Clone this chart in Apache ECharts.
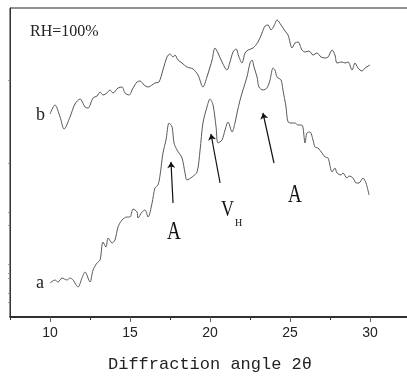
<!DOCTYPE html>
<html>
<head>
<meta charset="utf-8">
<script src="https://cdn.jsdelivr.net/npm/echarts@6/dist/echarts.min.js"></script>
<style>
html,body{margin:0;padding:0;background:#fff;}
#chart{width:407px;height:377px;}
</style>
</head>
<body>
<div id="chart"></div>
<script>
// Curve b (RH=100%) : 2θ values and intensity (arbitrary units)
const xB = [10,10.31,10.63,10.88,11.25,11.56,11.88,12.19,12.38,12.69,12.94,13.13,13.31,13.56,13.75,13.94,14.25,14.5,14.69,14.94,15.19,15.44,15.63,15.88,16.13,16.56,16.81,17.06,17.31,17.5,17.69,17.81,18,18.25,18.56,18.94,19.25,19.56,19.81,20,20.13,20.31,20.5,20.75,21.06,21.25,21.44,21.63,21.81,22,22.19,22.38,22.69,23,23.25,23.44,23.63,23.81,24,24.19,24.44,24.69,24.88,25.13,25.31,25.5,25.75,25.94,26.19,26.44,26.69,26.94,27.19,27.38,27.63,27.81,27.94,28.25,28.44,28.63,28.88,29.06,29.25,29.5,29.69,30];
const yB = [203,212,200,188,200,213,218,210,209,219,221,225,222,224,227,224,229,230,224,222,229,235,236,232,230,234,235,247,260,263,260,262,257,254,250,248,242,230,240,250,257,269,264,255,247,255,265,268,260,254,264,267,269,275,284,291,292,287,291,297,292,286,282,269,274,275,267,265,266,262,264,260,259,260,267,262,254,255,254,255,247,254,249,246,249,252];
// Curve a
const xA = [10,10.31,10.5,10.75,11.06,11.25,11.44,11.75,12,12.19,12.5,12.69,12.94,13.13,13.31,13.5,13.63,13.88,14.06,14.25,14.5,14.81,15,15.19,15.44,15.5,15.75,15.94,16.13,16.38,16.56,16.75,16.88,17.06,17.25,17.44,17.63,17.75,17.94,18.25,18.44,18.56,18.88,19.19,19.38,19.56,19.81,20,20.19,20.38,20.5,20.75,20.94,21.13,21.38,21.56,21.69,21.88,22.06,22.31,22.5,22.63,22.75,22.94,23.06,23.31,23.56,23.75,23.94,24.06,24.19,24.44,24.56,24.75,24.88,25.13,25.31,25.5,25.75,25.94,26.06,26.25,26.44,26.56,26.75,27,27.19,27.38,27.63,27.81,27.94,28.19,28.31,28.56,28.69,28.94,29.13,29.31,29.56,29.75,29.94];
const yA = [34,37,35,39,37,39,37,30,39,45,35,47,54,57,75,70,79,74,77,90,97,100,100,108,105,99,105,107,100,114,129,132,142,164,177,194,190,174,167,159,144,137,140,145,167,194,210,218,212,190,174,177,187,195,185,194,204,217,227,240,254,257,250,240,230,227,229,237,249,247,240,237,227,210,195,194,194,192,192,174,184,185,177,170,169,164,160,159,145,149,144,142,144,139,141,139,134,134,139,134,122];
// Annotation arrows [x0,y0,x1,y1] (tail -> head) in data units
const arrows = [
  [17.69,114,17.56,155],
  [20.63,134,20.06,183],
  [24.0,154,23.31,204]
];
const xTickLabels = [10,15,20,25,30];
const yTickMarks = [237,154,105,92,53,44,39,24,15];

const zip = (xs, ys) => xs.map((x, i) => [x, ys[i]]);

const chart = echarts.init(document.getElementById('chart'), null, {renderer: 'canvas'});
const option = {
  animation: false,
  backgroundColor: '#fff',
  grid: [
    {left: 10, right: -3, top: 8, bottom: 60, show: true, borderColor: '#222', borderWidth: 1, backgroundColor: 'transparent', outerBoundsMode: 'none', containLabel: false},
    {left: 50, right: 37, top: 8, bottom: 60, show: false, outerBoundsMode: 'none', containLabel: false}
  ],
  xAxis: [
    {
      type: 'value', gridIndex: 0, min: 7.5, max: 32.5, interval: 2.5,
      axisLine: {show: true, lineStyle: {color: '#111', width: 1.5}},
      axisTick: {show: true, inside: false, length: 3, lineStyle: {color: '#333', width: 1}},
      axisLabel: {show: false},
      splitLine: {show: false},
      name: 'Diffraction angle 2\u03b8', nameLocation: 'middle', nameGap: 39,
      nameTextStyle: {fontFamily: 'Liberation Mono', fontSize: 17, color: '#222'}
    },
    {
      type: 'value', gridIndex: 1, min: 10, max: 30, interval: 5,
      axisLine: {show: false},
      axisTick: {show: true, inside: false, length: 5, lineStyle: {color: '#666', width: 1}},
      axisLabel: {show: true, margin: 9, fontFamily: 'Liberation Sans', fontSize: 14, color: '#222',
        formatter: v => xTickLabels.indexOf(v) >= 0 ? String(v) : ''},
      splitLine: {show: false}
    }
  ],
  yAxis: [
    {
      type: 'value', gridIndex: 0, min: 0, max: 309,
      axisLine: {show: true, lineStyle: {color: '#333', width: 1}},
      axisTick: {show: true, inside: false, length: 2, customValues: yTickMarks, lineStyle: {color: '#999'}},
      axisLabel: {show: false},
      splitLine: {show: false}
    },
    {
      type: 'value', gridIndex: 1, min: 0, max: 309, show: false
    }
  ],
  series: [
    {
      name: 'b', type: 'line', xAxisIndex: 0, yAxisIndex: 0, data: zip(xB, yB),
      showSymbol: false, smooth: 0.3, lineStyle: {color: '#555', width: 1}
    },
    {
      name: 'a', type: 'line', xAxisIndex: 0, yAxisIndex: 0, data: zip(xA, yA),
      showSymbol: false, smooth: 0.3, lineStyle: {color: '#5a5a5a', width: 1},
      markLine: {
        silent: true, symbol: ['none', 'arrow'], symbolSize: 6, label: {show: false},
        lineStyle: {color: '#111', width: 1.2, type: 'solid'},
        data: arrows.map(a => [{coord: [a[0], a[1]]}, {coord: [a[2], a[3]]}])
      }
    }
  ],
  graphic: [
    {type: 'text', left: 30, top: 24, style: {text: 'RH=100%', font: '16px "Liberation Serif"', fill: '#222'}},
    {type: 'text', left: 36, top: 106, style: {text: 'b', font: '18px "Liberation Serif"', fill: '#222'}},
    {type: 'text', left: 36, top: 274, style: {text: 'a', font: '18px "Liberation Serif"', fill: '#222'}},
    {type: 'text', x: 167, y: 220, scaleY: 1.3, style: {text: 'A', font: '19px "Liberation Serif"', fill: '#111'}},
    {type: 'text', x: 288, y: 183, scaleY: 1.3, style: {text: 'A', font: '19px "Liberation Serif"', fill: '#111'}},
    {type: 'text', x: 221, y: 198, scaleY: 1.3, style: {text: 'V', font: '18px "Liberation Serif"', fill: '#111'}},
    {type: 'text', x: 235, y: 218, style: {text: 'H', font: '10px "Liberation Serif"', fill: '#111'}}
  ]
};
chart.setOption(option);
</script>
</body>
</html>
